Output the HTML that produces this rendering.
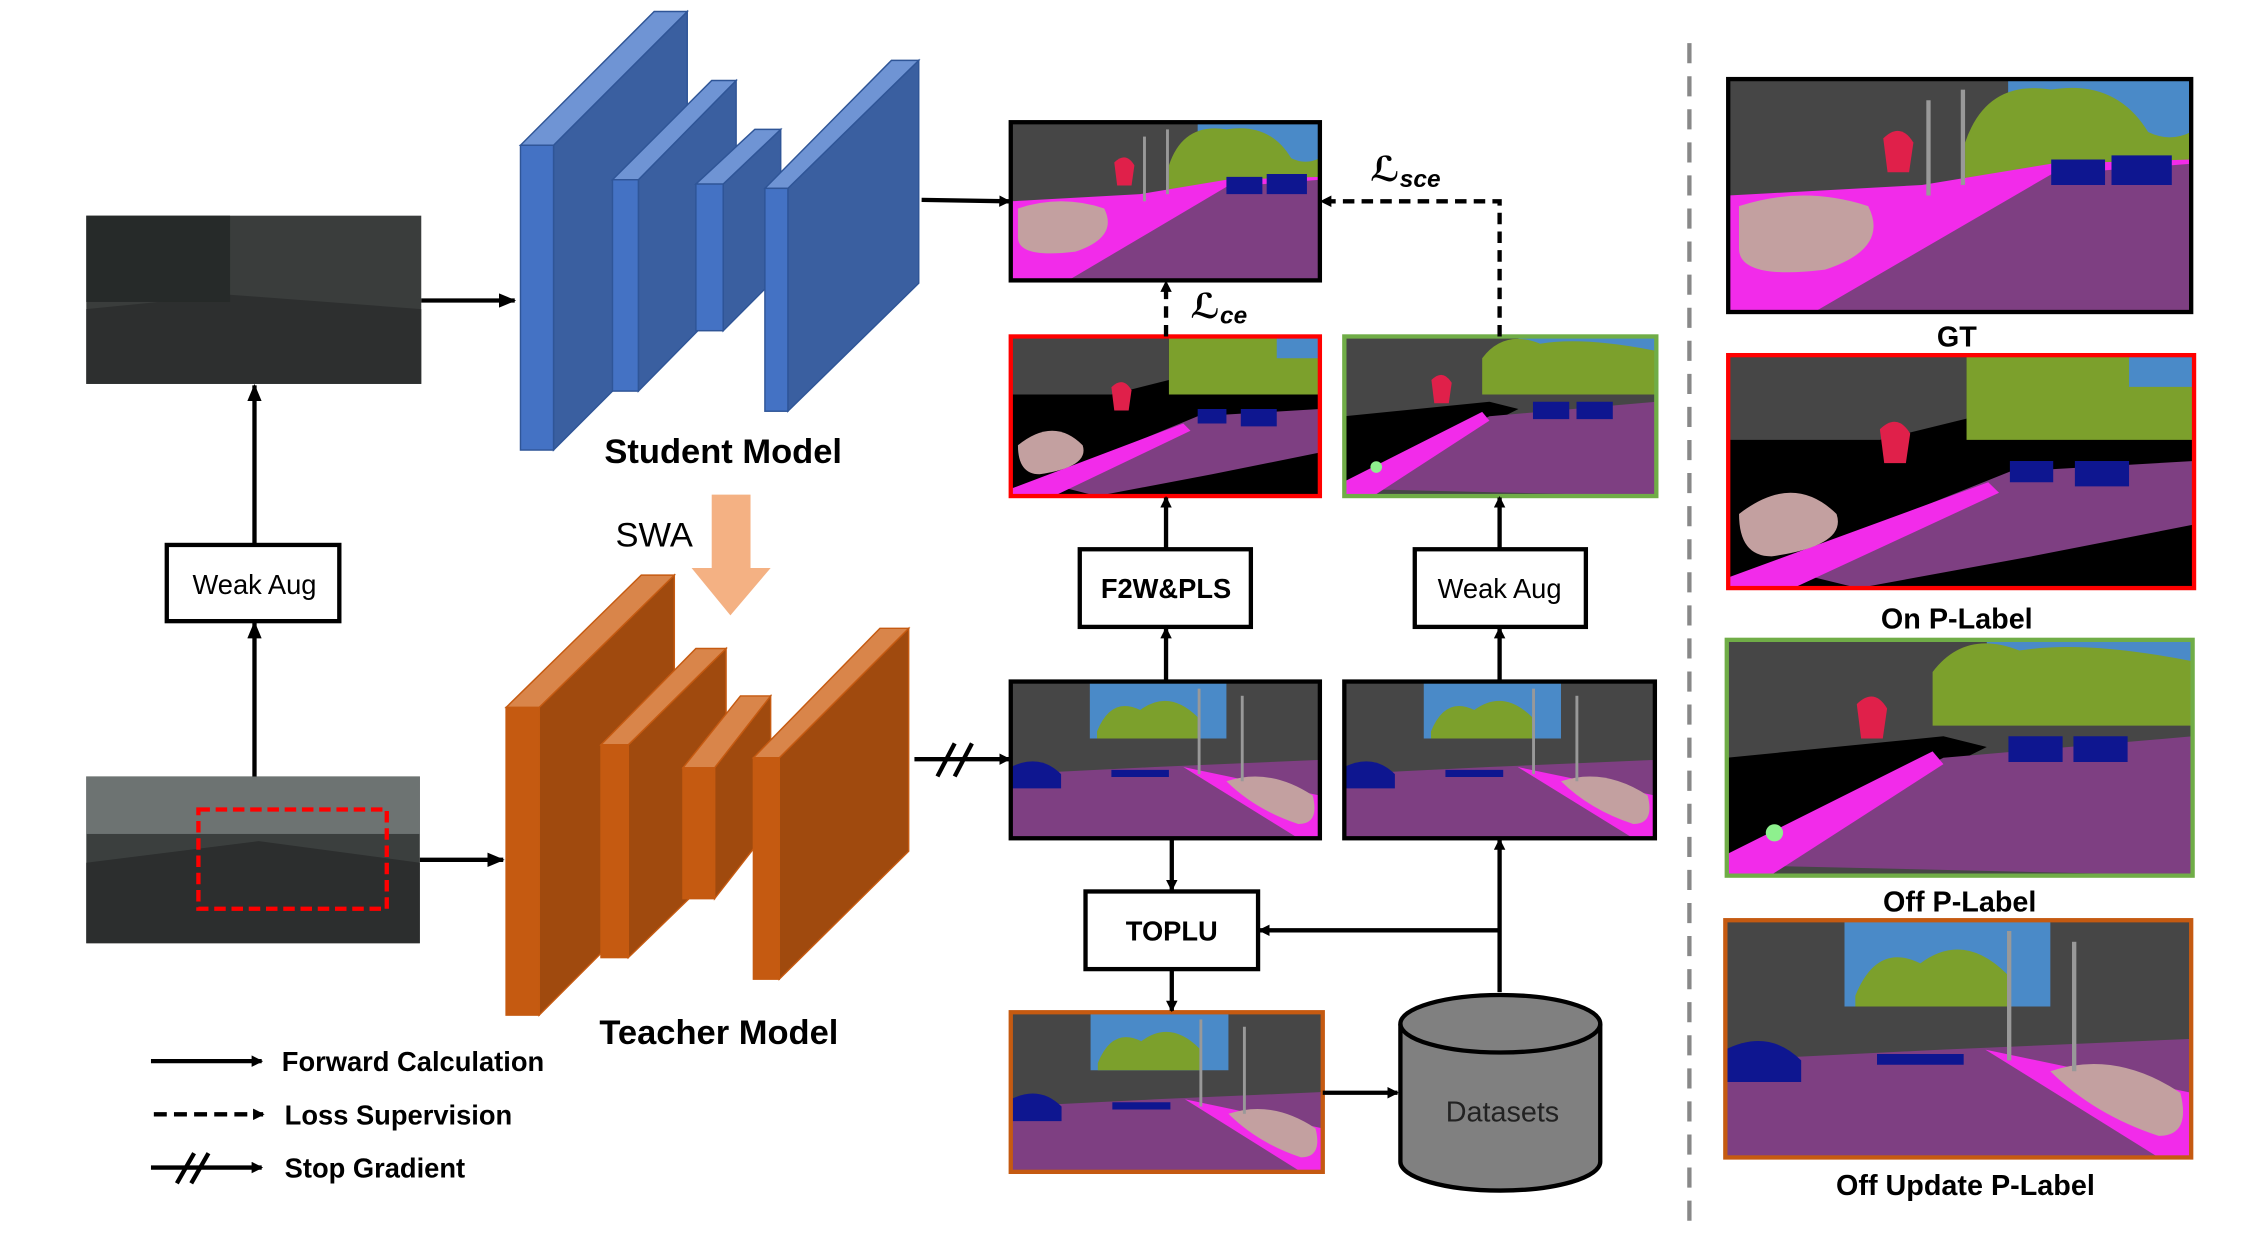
<!DOCTYPE html>
<html><head><meta charset="utf-8"><style>
html,body{margin:0;padding:0;background:#fff;}
svg{display:block;}
text{font-family:"Liberation Sans","DejaVu Sans",sans-serif;}
</style></head><body>
<svg width="2253" height="1240" viewBox="0 0 1567 862.4" preserveAspectRatio="none" xmlns="http://www.w3.org/2000/svg">
<defs>
<marker id="ah" markerWidth="8" markerHeight="8" refX="7" refY="4" orient="auto" markerUnits="userSpaceOnUse"><path d="M0,0 L8,4 L0,8 z" fill="#000"/></marker>
<marker id="ah2" markerWidth="12" markerHeight="10" refX="11" refY="5" orient="auto" markerUnits="userSpaceOnUse"><path d="M0,0 L12,5 L0,10 z" fill="#000"/></marker>
<symbol id="sA" viewBox="0 0 215 110" preserveAspectRatio="none">
<rect width="215" height="110" fill="#464646"/>
<path d="M130,0 h85 v40 h-85z" fill="#4a8ac8"/>
<path d="M110,30 q10,-30 40,-25 q30,-5 45,20 q10,5 20,0 v25 h-105z" fill="#7ca02c"/>
<path d="M0,55 L90,50 L150,40 L215,38 V110 H0z" fill="#f22bea"/>
<path d="M40,110 L150,45 L215,40 V110z" fill="#7e3f82"/>
<path d="M5,60 q30,-10 60,0 q10,20 -20,30 q-40,5 -40,-10z" fill="#c3a0a0"/>
<path d="M150,38 h25 v12 h-25z M178,36 h28 v14 h-28z" fill="#0e1690"/>
<path d="M72,28 q8,-8 14,2 l-2,14 h-10z" fill="#e0204a"/>
<rect x="92" y="10" width="2" height="45" fill="#999"/><rect x="108" y="5" width="2" height="45" fill="#999"/>
</symbol>
<symbol id="sB" viewBox="0 0 215 110" preserveAspectRatio="none">
<rect width="215" height="110" fill="#464646"/>
<path d="M55,0 h95 v40 h-95z" fill="#4a8ac8"/>
<path d="M60,35 q10,-25 30,-15 q20,-15 40,5 v15 h-70z" fill="#7ca02c"/>
<path d="M0,65 L100,60 L215,55 V110 H0z" fill="#7e3f82"/>
<path d="M120,60 L215,80 V110 L200,110z" fill="#f22bea"/>
<path d="M150,70 q30,-10 60,10 q5,20 -10,20 q-30,-10 -50,-30z" fill="#c3a0a0"/>
<path d="M0,60 q20,-10 35,5 v10 h-35z" fill="#0e1690"/>
<path d="M70,62 h40 v5 h-40z" fill="#0e1690"/>
<rect x="130" y="5" width="2" height="60" fill="#999"/><rect x="160" y="10" width="2" height="60" fill="#999"/>
</symbol>
<symbol id="sC" viewBox="0 0 215 110" preserveAspectRatio="none">
<rect width="215" height="110" fill="#000"/>
<path d="M0,0 h110 v30 l-40,10 h-70z" fill="#464646"/>
<path d="M110,0 h105 v40 h-105z" fill="#7ca02c"/>
<path d="M185,0 h30 v15 h-30z" fill="#4a8ac8"/>
<path d="M20,100 L130,55 L215,50 V80 L140,95 L60,110z" fill="#7e3f82"/>
<path d="M0,105 L120,60 L125,65 L30,110 H0z" fill="#f22bea"/>
<path d="M5,75 q25,-20 45,0 q5,15 -30,20 q-15,0 -15,-20z" fill="#c3a0a0"/>
<path d="M130,50 h20 v10 h-20z M160,50 h25 v12 h-25z" fill="#0e1690"/>
<path d="M70,35 q8,-8 14,2 l-2,14 h-10z" fill="#e0204a"/>
</symbol>
<symbol id="sD" viewBox="0 0 215 110" preserveAspectRatio="none">
<rect width="215" height="110" fill="#464646"/>
<path d="M120,0 h95 v20 h-95z" fill="#4a8ac8"/>
<path d="M95,15 q15,-20 40,-10 q30,-5 80,5 v30 h-120z" fill="#7ca02c"/>
<path d="M0,55 L100,45 L120,50 L0,110z" fill="#000"/>
<path d="M0,105 L100,55 L215,45 V110z" fill="#7e3f82"/>
<path d="M0,100 L95,52 L100,58 L20,110 H0z" fill="#f22bea"/>
<path d="M130,45 h25 v12 h-25z M160,45 h25 v12 h-25z" fill="#0e1690"/>
<path d="M60,30 q8,-8 14,2 l-2,14 h-10z" fill="#e0204a"/>
<circle cx="22" cy="90" r="4" fill="#8ef08e"/>
</symbol>
</defs>
<rect width="1567" height="862.4" fill="#fff"/>

<rect x="60" y="150" width="233" height="117" fill="#3a3d3c"/>
<path d="M60,215 L160,205 L293,215 V267 H60z" fill="#2d2f2f"/>
<rect x="60" y="150" width="100" height="60" fill="#262a29"/>
<rect x="60" y="540" width="232" height="116" fill="#3b3f3e"/>
<rect x="60" y="540" width="232" height="40" fill="#6d7372"/>
<path d="M60,600 L180,585 L292,600 V656 H60z" fill="#2c2e2e"/>
<rect x="138" y="563" width="131" height="69" fill="none" stroke="#f00" stroke-width="3" stroke-dasharray="8,4"/>

<g stroke="#2f5597" stroke-width="1">
<path d="M385,101 L478,8 L478,220 L385,313z" fill="#3a5fa0"/><path d="M362,101 L455,8 L478,8 L385,101z" fill="#6f94d4"/><rect x="362" y="101" width="23" height="212" fill="#4472c4"/>
<path d="M444,125 L512,56 L512,203 L444,272z" fill="#3a5fa0"/><path d="M426,125 L495,56 L512,56 L444,125z" fill="#6f94d4"/><rect x="426" y="125" width="18" height="147" fill="#4472c4"/>
<path d="M503,128 L543,90 L543,190 L503,230z" fill="#3a5fa0"/><path d="M484,128 L525,90 L543,90 L503,128z" fill="#6f94d4"/><rect x="484" y="128" width="19" height="102" fill="#4472c4"/>
<path d="M548,131 L639,42 L639,197 L548,286z" fill="#3a5fa0"/><path d="M532,131 L620,42 L639,42 L548,131z" fill="#6f94d4"/><rect x="532" y="131" width="16" height="155" fill="#4472c4"/>
</g>
<text x="503" y="322" font-size="24" font-weight="bold" text-anchor="middle">Student Model</text>
<text x="455" y="380" font-size="24" text-anchor="middle">SWA</text>
<path d="M495,344 h27 v51 h14 l-28,33 l-27,-33 h14z" fill="#f4b183"/>

<g stroke="#c55a11" stroke-width="1">
<path d="M375,492 L469,400 L469,612 L375,706z" fill="#a04a0e"/><path d="M352,492 L446,400 L469,400 L375,492z" fill="#d9854a"/><rect x="352" y="492" width="23" height="214" fill="#c55a11"/>
<path d="M437,518 L505,451 L505,600 L437,666z" fill="#a04a0e"/><path d="M418,518 L484,451 L505,451 L437,518z" fill="#d9854a"/><rect x="418" y="518" width="19" height="148" fill="#c55a11"/>
<path d="M497,534 L536,484 L536,575 L497,625z" fill="#a04a0e"/><path d="M475,534 L515,484 L536,484 L497,534z" fill="#d9854a"/><rect x="475" y="534" width="22" height="91" fill="#c55a11"/>
<path d="M542,527 L632,437 L632,592 L542,681z" fill="#a04a0e"/><path d="M524,527 L612,437 L632,437 L542,527z" fill="#d9854a"/><rect x="524" y="527" width="18" height="154" fill="#c55a11"/>
</g>
<text x="500" y="726" font-size="24" font-weight="bold" text-anchor="middle">Teacher Model</text>

<g stroke="#000" stroke-width="3" fill="none">
<line x1="293" y1="209" x2="358" y2="209" marker-end="url(#ah2)"/>
<line x1="292" y1="598" x2="350" y2="598" marker-end="url(#ah2)"/>
<line x1="177" y1="540" x2="177" y2="433" marker-end="url(#ah2)"/>
<line x1="177" y1="379" x2="177" y2="268" marker-end="url(#ah2)"/>
<rect x="116" y="379" width="120" height="53" fill="#fff"/>
</g>
<text x="177" y="413" font-size="19" text-anchor="middle">Weak Aug</text>

<g stroke="#000" stroke-width="3" fill="none">
<line x1="105" y1="738" x2="182" y2="738" marker-end="url(#ah)"/>
<line x1="107" y1="775" x2="183" y2="775" stroke-dasharray="9,5" marker-end="url(#ah)"/>
<line x1="105" y1="812" x2="182" y2="812" marker-end="url(#ah)"/>
<line x1="123" y1="823" x2="135" y2="802"/><line x1="133" y1="823" x2="145" y2="802"/>
</g>
<text x="196" y="745" font-size="19" font-weight="bold">Forward Calculation</text>
<text x="198" y="782" font-size="19" font-weight="bold">Loss Supervision</text>
<text x="198" y="819" font-size="19" font-weight="bold">Stop Gradient</text>

<use href="#sA" x="703" y="85" width="215" height="110"/><rect x="703" y="85" width="215" height="110" fill="none" stroke="#000" stroke-width="3"/>
<use href="#sC" x="703" y="234" width="215" height="111"/><rect x="703" y="234" width="215" height="111" fill="none" stroke="#f00" stroke-width="3"/>
<use href="#sD" x="935" y="234" width="217" height="111"/><rect x="935" y="234" width="217" height="111" fill="none" stroke="#70ad47" stroke-width="3"/>
<use href="#sB" x="703" y="474" width="215" height="109"/><rect x="703" y="474" width="215" height="109" fill="none" stroke="#000" stroke-width="3"/>
<use href="#sB" x="935" y="474" width="216" height="109"/><rect x="935" y="474" width="216" height="109" fill="none" stroke="#000" stroke-width="3"/>
<use href="#sB" x="703" y="704" width="217" height="111"/><rect x="703" y="704" width="217" height="111" fill="none" stroke="#c55a11" stroke-width="3"/>

<g stroke="#000" stroke-width="3" fill="none">
<line x1="641" y1="139" x2="702" y2="140" marker-end="url(#ah)"/>
<line x1="636" y1="528" x2="702" y2="528" marker-end="url(#ah)"/>
<line x1="652" y1="540" x2="664" y2="517"/><line x1="664" y1="540" x2="676" y2="517"/>
<line x1="811" y1="382" x2="811" y2="346" marker-end="url(#ah)"/>
<line x1="811" y1="474" x2="811" y2="437" marker-end="url(#ah)"/>
<line x1="1043" y1="382" x2="1043" y2="346" marker-end="url(#ah)"/>
<line x1="1043" y1="474" x2="1043" y2="437" marker-end="url(#ah)"/>
<line x1="815" y1="584" x2="815" y2="619" marker-end="url(#ah)"/>
<line x1="815" y1="674" x2="815" y2="703" marker-end="url(#ah)"/>
<line x1="1043" y1="690" x2="1043" y2="584" marker-end="url(#ah)"/>
<line x1="1043" y1="647" x2="876" y2="647" marker-end="url(#ah)"/>
<line x1="920" y1="760" x2="972" y2="760" marker-end="url(#ah)"/>
<line x1="811" y1="234" x2="811" y2="196" stroke-dasharray="8,5" marker-end="url(#ah)"/>
<path d="M1043,234 V140 H919" stroke-dasharray="8,5" marker-end="url(#ah)"/>
<rect x="751" y="382" width="119" height="54" fill="#fff"/>
<rect x="984" y="382" width="119" height="54" fill="#fff"/>
<rect x="755" y="620" width="120" height="54" fill="#fff"/>
</g>
<text x="811" y="416" font-size="19" font-weight="bold" text-anchor="middle">F2W&amp;PLS</text>
<text x="1043" y="416" font-size="19" text-anchor="middle">Weak Aug</text>
<text x="815" y="654" font-size="19" font-weight="bold" text-anchor="middle">TOPLU</text>
<text x="828" y="221" font-size="24" font-style="italic" font-weight="bold" font-family="Liberation Serif,serif">ℒ<tspan font-size="17" dy="4">ce</tspan></text>
<text x="953" y="126" font-size="24" font-style="italic" font-weight="bold" font-family="Liberation Serif,serif">ℒ<tspan font-size="17" dy="4">sce</tspan></text>

<path d="M974,712 V808 A69.5,20 0 0 0 1113,808 V712" fill="#808080" stroke="#000" stroke-width="3"/>
<ellipse cx="1043.5" cy="712" rx="69.5" ry="20" fill="#808080" stroke="#000" stroke-width="3"/>
<text x="1045" y="780" font-size="20" text-anchor="middle" fill="#222">Datasets</text>

<line x1="1175" y1="30" x2="1175" y2="855" stroke="#888" stroke-width="3" stroke-dasharray="14,9"/>

<use href="#sA" x="1202" y="55" width="322" height="162"/><rect x="1202" y="55" width="322" height="162" fill="none" stroke="#000" stroke-width="3"/>
<text x="1361" y="241" font-size="20" font-weight="bold" text-anchor="middle">GT</text>
<use href="#sC" x="1202" y="247" width="324" height="162"/><rect x="1202" y="247" width="324" height="162" fill="none" stroke="#f00" stroke-width="3"/>
<text x="1361" y="437" font-size="20" font-weight="bold" text-anchor="middle">On P-Label</text>
<use href="#sD" x="1201" y="445" width="324" height="164"/><rect x="1201" y="445" width="324" height="164" fill="none" stroke="#70ad47" stroke-width="3"/>
<text x="1363" y="634" font-size="20" font-weight="bold" text-anchor="middle">Off P-Label</text>
<use href="#sB" x="1200" y="640" width="324" height="165"/><rect x="1200" y="640" width="324" height="165" fill="none" stroke="#c55a11" stroke-width="3"/>
<text x="1367" y="831" font-size="20" font-weight="bold" text-anchor="middle">Off Update P-Label</text>
</svg>
</body></html>
